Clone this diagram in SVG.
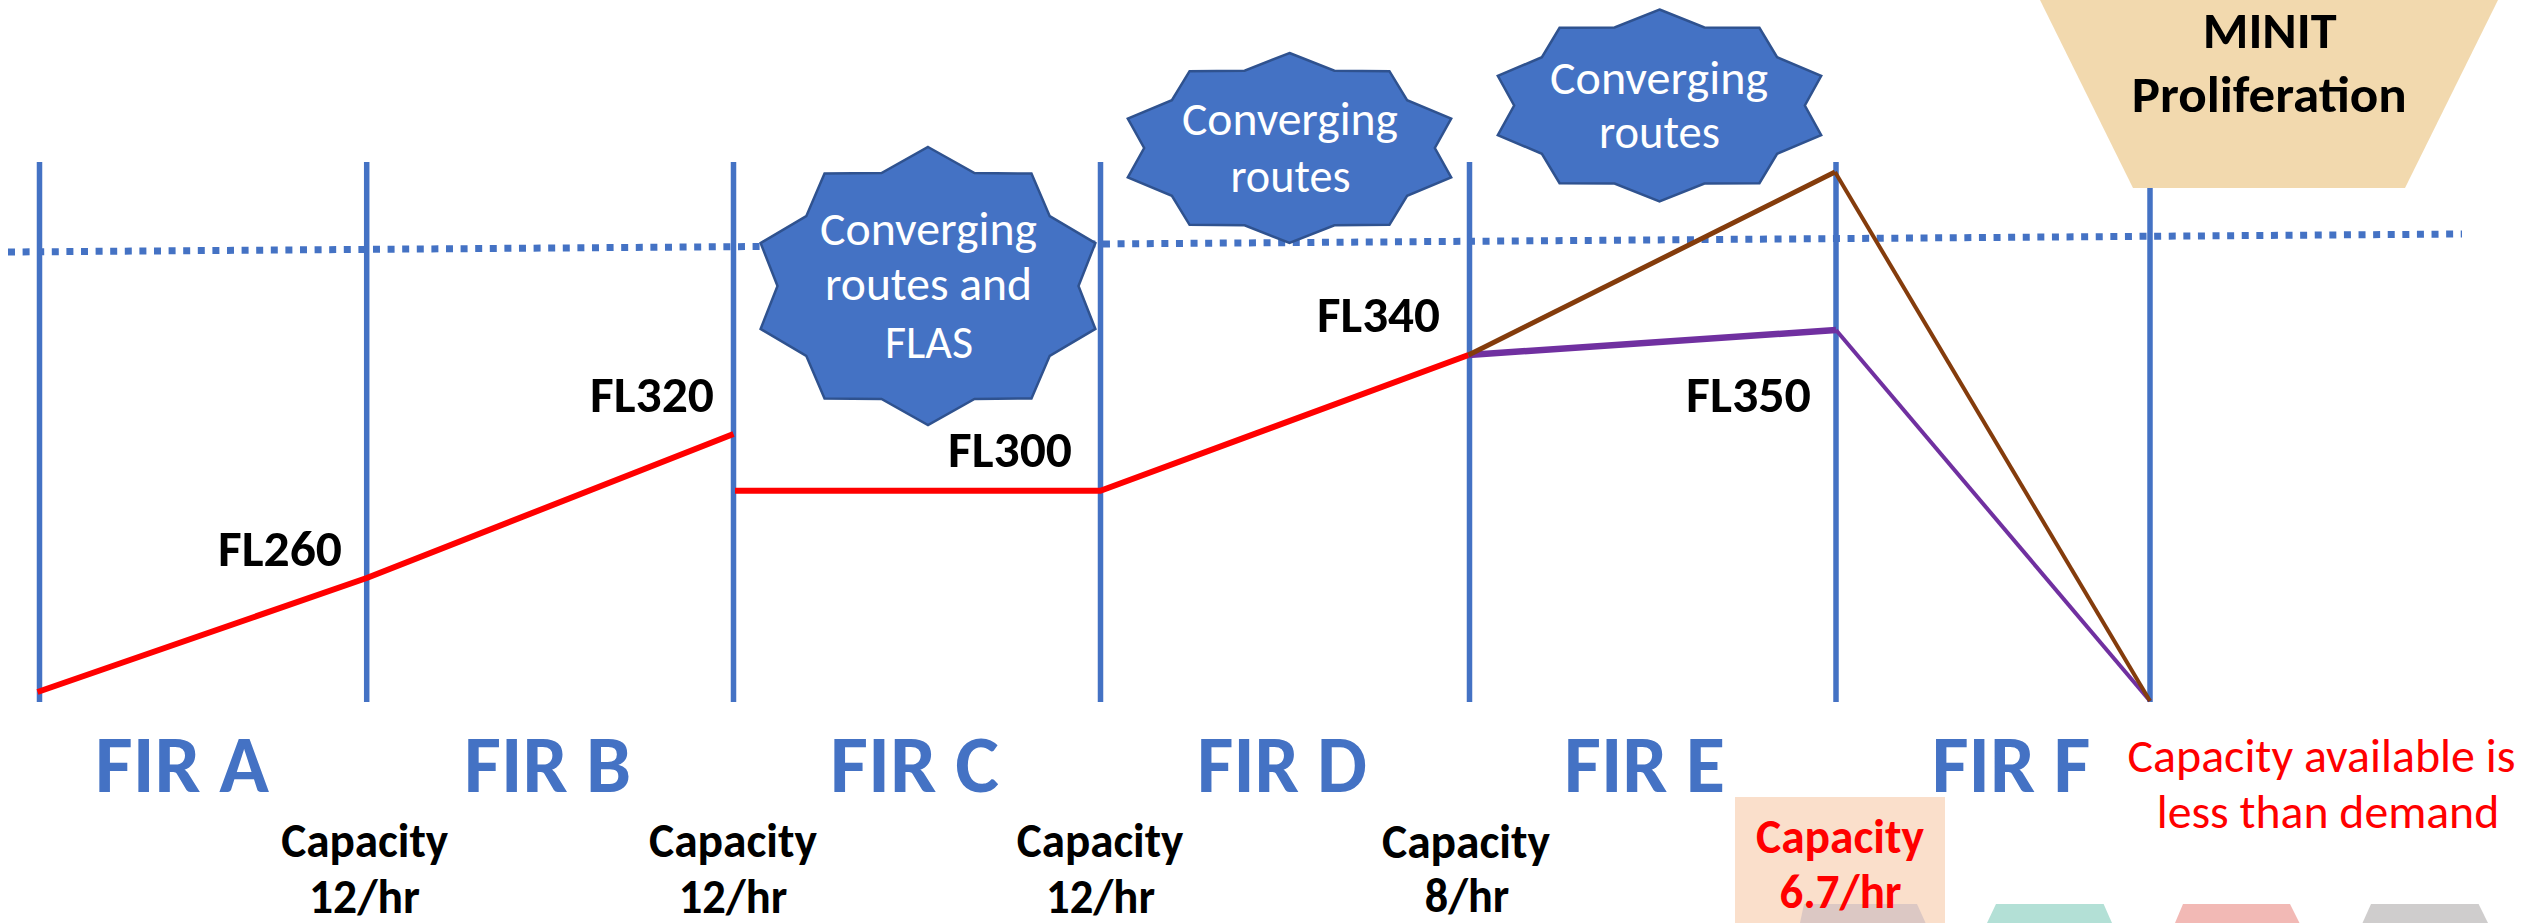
<svg xmlns="http://www.w3.org/2000/svg" width="2522" height="923" viewBox="0 0 2522 923">
<style>
  .bound{stroke:#4472C4;stroke-width:5.5;fill:none}
  .dots{stroke:#4472C4;stroke-width:7;stroke-dasharray:7 7.6;fill:none}
  .star{fill:#4472C4;stroke:#2F528F;stroke-width:2.5}
  .t{font-family:Carlito,"Liberation Sans Narrow","Liberation Sans",Arial,sans-serif;text-anchor:middle}
  .fl{font-size:51px;font-weight:bold;fill:#000}
  .st{font-size:47px;fill:#FFFFFF}
  .fir{font-size:81px;font-weight:bold;fill:#4472C4}
  .cap{font-size:47.5px;font-weight:bold;fill:#000}
  .capr{font-size:47.5px;font-weight:bold;fill:#FF0000}
  .warn{font-size:47px;fill:#FF0000}
  .minit{font-size:51px;font-weight:bold;fill:#000}
</style>
<defs>
  <path id="star10" vector-effect="non-scaling-stroke" d="M0,-100 L26.42,-81.31 L58.78,-80.9 L69.17,-50.26 L95.11,-30.9 L85.5,0 L95.11,30.9 L69.17,50.26 L58.78,80.9 L26.42,81.31 L0,100 L-26.42,81.31 L-58.78,80.9 L-69.17,50.26 L-95.11,30.9 L-85.5,0 L-95.11,-30.9 L-69.17,-50.26 L-58.78,-80.9 L-26.42,-81.31 Z"/>
</defs>
<rect width="2522" height="923" fill="#FFFFFF"/>

<g id="dotted-level">
  <line class="dots" x1="8" y1="252" x2="2462" y2="234"/>
</g>

<g id="fir-boundaries">
  <line class="bound" x1="39.5" y1="162" x2="39.5" y2="702"/>
  <line class="bound" x1="366.7" y1="162" x2="366.7" y2="702"/>
  <line class="bound" x1="733.5" y1="162" x2="733.5" y2="702"/>
  <line class="bound" x1="1100.5" y1="162" x2="1100.5" y2="702"/>
  <line class="bound" x1="1469.5" y1="162" x2="1469.5" y2="702"/>
  <line class="bound" x1="1836" y1="162" x2="1836" y2="702"/>
  <line class="bound" x1="2150" y1="188" x2="2150" y2="702"/>
</g>

<g id="minit">
  <polygon points="2040,0 2498,0 2405,188 2133,188" fill="#F2D9AE"/>
  <text class="t minit" x="2269.7" y="48.3" textLength="134" lengthAdjust="spacingAndGlyphs">MINIT</text>
  <text class="t minit" x="2269.2" y="111.7" textLength="275" lengthAdjust="spacingAndGlyphs">Proliferation</text>
</g>

<g id="star-fir-c">
  <use href="#star10" class="star" transform="translate(928,286) scale(1.76,1.39)"/>
  <text class="t st" x="928.5" y="245" textLength="217" lengthAdjust="spacingAndGlyphs">Converging</text>
  <text class="t st" x="928.5" y="300" textLength="207" lengthAdjust="spacingAndGlyphs">routes and</text>
  <text class="t st" x="929" y="358" textLength="88" lengthAdjust="spacingAndGlyphs">FLAS</text>
</g>
<g id="star-fir-d">
  <use href="#star10" class="star" transform="translate(1289.5,148) scale(1.7,0.95)"/>
  <text class="t st" x="1290" y="135" textLength="216" lengthAdjust="spacingAndGlyphs">Converging</text>
  <text class="t st" x="1290.5" y="192" textLength="120" lengthAdjust="spacingAndGlyphs">routes</text>
</g>
<g id="star-fir-e">
  <use href="#star10" class="star" transform="translate(1659.5,105.5) scale(1.7,0.96)"/>
  <text class="t st" x="1659" y="94" textLength="218" lengthAdjust="spacingAndGlyphs">Converging</text>
  <text class="t st" x="1659.5" y="148" textLength="121" lengthAdjust="spacingAndGlyphs">routes</text>
</g>

<g id="connectors" fill="none" stroke-linejoin="round">
  <polyline points="37.5,692 366.7,578 733.5,434" stroke="#FF0000" stroke-width="6"/>
  <polyline points="735,490.7 1100.5,490.7 1468.5,355" stroke="#FF0000" stroke-width="6"/>
  <line x1="1468.5" y1="355" x2="1836" y2="330" stroke="#7030A0" stroke-width="6.5"/>
  <line x1="1836" y1="330" x2="2150" y2="701" stroke="#7030A0" stroke-width="4"/>
  <line x1="1468.5" y1="355" x2="1835" y2="172" stroke="#843C0C" stroke-width="5"/>
  <line x1="1835" y1="172" x2="2150" y2="701" stroke="#843C0C" stroke-width="4"/>
</g>

<g id="flight-levels">
  <text class="t fl" x="280" y="566" textLength="124" lengthAdjust="spacingAndGlyphs">FL260</text>
  <text class="t fl" x="652" y="412" textLength="124" lengthAdjust="spacingAndGlyphs">FL320</text>
  <text class="t fl" x="1010" y="467" textLength="124" lengthAdjust="spacingAndGlyphs">FL300</text>
  <text class="t fl" x="1378.5" y="332" textLength="123" lengthAdjust="spacingAndGlyphs">FL340</text>
  <text class="t fl" x="1748.5" y="412" textLength="125" lengthAdjust="spacingAndGlyphs">FL350</text>
</g>

<g id="fir-labels">
  <text class="t fir" x="182" y="791.7" textLength="174" lengthAdjust="spacingAndGlyphs">FIR A</text>
  <text class="t fir" x="547.5" y="791.7" textLength="167" lengthAdjust="spacingAndGlyphs">FIR B</text>
  <text class="t fir" x="914.5" y="791.7" textLength="169" lengthAdjust="spacingAndGlyphs">FIR C</text>
  <text class="t fir" x="1282" y="791.7" textLength="170" lengthAdjust="spacingAndGlyphs">FIR D</text>
  <text class="t fir" x="1644.5" y="791.7" textLength="161" lengthAdjust="spacingAndGlyphs">FIR E</text>
  <text class="t fir" x="2011" y="791.7" textLength="158.5" lengthAdjust="spacingAndGlyphs">FIR F</text>
</g>

<g id="capacity-ab">
  <text class="t cap" x="364.7" y="857" textLength="167" lengthAdjust="spacingAndGlyphs">Capacity</text>
  <text class="t cap" x="364.5" y="913" textLength="111" lengthAdjust="spacingAndGlyphs">12/hr</text>
</g>
<g id="capacity-bc">
  <text class="t cap" x="733" y="857" textLength="168" lengthAdjust="spacingAndGlyphs">Capacity</text>
  <text class="t cap" x="733" y="913" textLength="108.5" lengthAdjust="spacingAndGlyphs">12/hr</text>
</g>
<g id="capacity-cd">
  <text class="t cap" x="1100" y="857" textLength="166.5" lengthAdjust="spacingAndGlyphs">Capacity</text>
  <text class="t cap" x="1100.5" y="913" textLength="109" lengthAdjust="spacingAndGlyphs">12/hr</text>
</g>
<g id="capacity-de">
  <text class="t cap" x="1466" y="858" textLength="168" lengthAdjust="spacingAndGlyphs">Capacity</text>
  <text class="t cap" x="1467" y="911.7" textLength="84.5" lengthAdjust="spacingAndGlyphs">8/hr</text>
</g>

<g id="bottom-shapes">
  <rect x="1735" y="797" width="210" height="126" fill="#FADFCB"/>
  <polygon points="1804,904 1917,904 1925.6,923 1800,923" fill="#DCC8C4"/>
  <polygon points="1996,904 2103.6,904 2112,923 1987,923" fill="#B3E0D6"/>
  <polygon points="2183,904 2290,904 2299.5,923 2175,923" fill="#F2B9B5"/>
  <polygon points="2371,904 2478.6,904 2488,923 2362.5,923" fill="#CFCDCD"/>
</g>

<g id="capacity-ef">
  <text class="t capr" x="1840" y="852.7" textLength="168" lengthAdjust="spacingAndGlyphs">Capacity</text>
  <text class="t capr" x="1840.5" y="908" textLength="122" lengthAdjust="spacingAndGlyphs">6.7/hr</text>
</g>

<g id="capacity-warning">
  <text class="t warn" x="2321.5" y="771.7" textLength="388" lengthAdjust="spacingAndGlyphs">Capacity available is</text>
  <text class="t warn" x="2328" y="828" textLength="342.5" lengthAdjust="spacingAndGlyphs">less than demand</text>
</g>
</svg>
